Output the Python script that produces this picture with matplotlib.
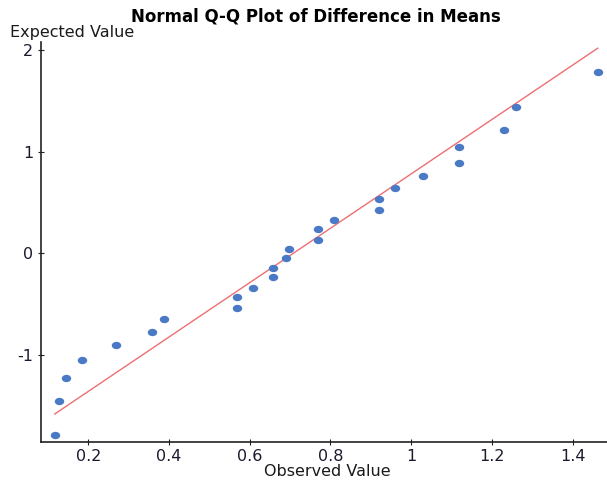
import numpy as np
import matplotlib
matplotlib.use("Agg")
import matplotlib.pyplot as plt
from matplotlib.path import Path
from matplotlib.markers import MarkerStyle
from matplotlib.transforms import Affine2D

# Observed values (difference in means) and expected normal quantiles
observed = [0.117, 0.127, 0.146, 0.185, 0.268, 0.358, 0.388, 0.569, 0.569,
            0.609, 0.658, 0.658, 0.689, 0.698, 0.768, 0.768, 0.808, 0.919,
            0.919, 0.959, 1.029, 1.118, 1.118, 1.229, 1.260, 1.462]
expected = [-1.785, -1.451, -1.222, -1.051, -0.904, -0.770, -0.648, -0.534,
            -0.432, -0.338, -0.236, -0.141, -0.046, 0.045, 0.131, 0.236,
            0.330, 0.422, 0.533, 0.639, 0.759, 0.890, 1.044, 1.214, 1.437,
            1.787]
x_ticks = [0.2, 0.4, 0.6, 0.8, 1.0, 1.2, 1.4]
x_tick_labels = ["0.2", "0.4", "0.6", "0.8", "1", "1.2", "1.4"]
y_ticks = [-1, 0, 1, 2]
y_tick_labels = ["-1", "0", "1", "2"]

obs = np.array(observed)
exp_ = np.array(expected)
mu = obs.mean()
sd = obs.std(ddof=1)
line_x = np.array([obs.min(), obs.max()])
line_y = (line_x - mu) / sd

fig = plt.figure(figsize=(6.07, 4.80), dpi=100)
ax = fig.add_axes([41 / 607, 38.3 / 480, 1 - 41 / 607, 400 / 480])

ax.plot(line_x, line_y, color="#ec6f73", lw=1.0, zorder=2)

ell = Path.unit_circle().transformed(Affine2D().scale(1.0, 0.78))
ax.plot(obs, exp_, linestyle="none", marker=MarkerStyle(ell), markersize=6.8,
        color="#4a79c6", markeredgewidth=0, zorder=3, clip_on=False)

ax.set_xlim(0.083, 1.485)
ax.set_ylim(-1.85, 2.08)
ax.set_xticks(x_ticks)
ax.set_xticklabels(x_tick_labels)
ax.set_yticks(y_ticks)
ax.set_yticklabels(y_tick_labels)

for s in ["top", "right"]:
    ax.spines[s].set_visible(False)
for s in ["left", "bottom"]:
    ax.spines[s].set_linewidth(1.2)
    ax.spines[s].set_color("#222222")

ax.tick_params(direction="inout", length=5, width=0.8, labelsize=11.5,
               colors="#222222", labelcolor="#1a1a2e", pad=3)
ax.tick_params(axis="x", pad=2.5)

fig.text(0.52, 1 - 17 / 480, "Normal Q-Q Plot of Difference in Means",
         ha="center", va="center", fontsize=12, fontweight="bold")
fig.text(10 / 607, 1 - 32 / 480, "Expected Value", ha="left", va="center",
         fontsize=11.5, color="#1a1a1a")
fig.text(327 / 607, 1 - 472 / 480, "Observed Value", ha="center",
         va="center", fontsize=11.5, color="#1a1a1a")

fig.savefig("out.png", dpi=100)
